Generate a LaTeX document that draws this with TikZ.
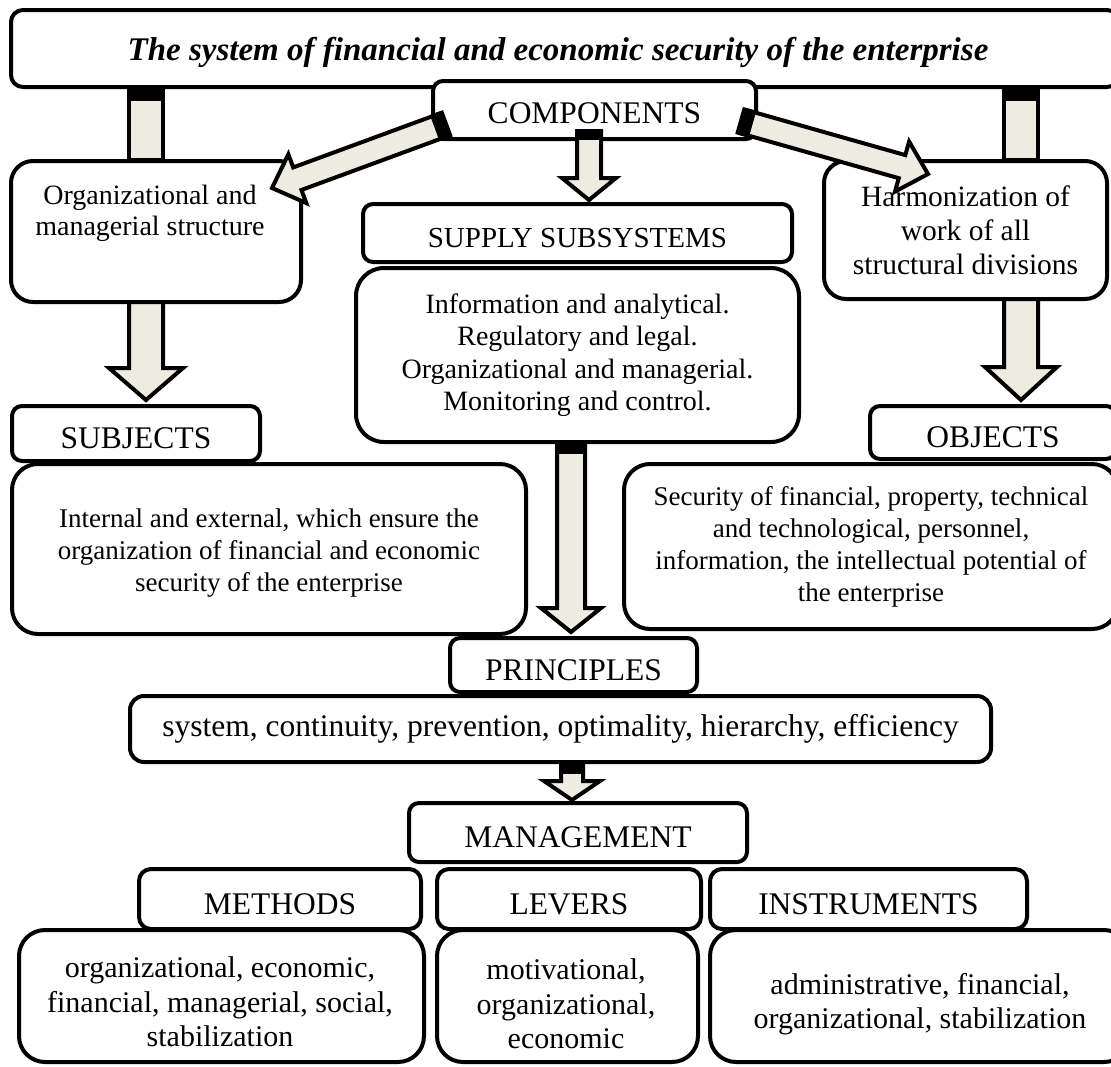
\documentclass[tikz,border=0pt]{standalone}
\usepackage{fontspec}
\setmainfont{Liberation Serif}
\usetikzlibrary{calc}
\definecolor{arrowtan}{HTML}{EEECE1}

\tikzset{
  box/.style={draw, line width=4pt, fill=white, inner sep=0pt, align=center, rounded corners=#1},
  box/.default=18pt,
  headtext/.style={font=\fontsize{31.5}{36}\selectfont, text height=30pt, text depth=0pt},
  bodytext/.style={font=\fontsize{27}{32}\selectfont},
  lowtext/.style={font=\fontsize{30}{34.5}\selectfont},
  plaintext/.style={inner sep=0pt, align=center},
  arrowbody/.style={fill=arrowtan, draw=black, line width=4pt, line join=miter},
  arrowcap/.style={fill=black},
}

% block arrow: tail, tip, half shaft width, half head width, head length, cap length
\newcommand\blockarrow[6]{%
  \coordinate (ba-base) at ($(#2)!#5pt!(#1)$);
  \filldraw[arrowbody] ($(#1)!#3pt!90:(#2)$) -- ($(ba-base)!#3pt!90:(#2)$)
    -- ($(ba-base)!#4pt!90:(#2)$) -- (#2) -- ($(ba-base)!#4pt!-90:(#2)$)
    -- ($(ba-base)!#3pt!-90:(#2)$) -- ($(#1)!#3pt!-90:(#2)$) -- cycle;
  \ifdim #6pt>0pt
    \pgfmathsetmacro\bacap{#3+2}%
    \coordinate (ba-cap) at ($(#1)!#6pt!(#2)$);
    \fill[arrowcap] ($(#1)!\bacap pt!90:(#2)$) -- ($(ba-cap)!\bacap pt!90:(#2)$)
      -- ($(ba-cap)!\bacap pt!-90:(#2)$) -- ($(#1)!\bacap pt!-90:(#2)$) -- cycle;
  \fi
}
% headless bar: start, end, half width, cap length
\newcommand\blockbar[4]{%
  \filldraw[arrowbody] ($(#1)!#3pt!90:(#2)$) -- ($(#2)!#3pt!-90:(#1)$)
    -- ($(#2)!#3pt!90:(#1)$) -- ($(#1)!#3pt!-90:(#2)$) -- cycle;
  \pgfmathsetmacro\bacap{#3+2}%
  \coordinate (bb-cap) at ($(#1)!#4pt!(#2)$);
  \fill[arrowcap] ($(#1)!\bacap pt!90:(#2)$) -- ($(bb-cap)!\bacap pt!90:(#2)$)
    -- ($(bb-cap)!\bacap pt!-90:(#2)$) -- ($(#1)!\bacap pt!-90:(#2)$) -- cycle;
}

\begin{document}
\begin{tikzpicture}[x=1pt, y=-1pt]
\useasboundingbox (0,0) rectangle (1111,1066);
\fill[white] (0,0) rectangle (1111,1066);

% top title
\node[box=12pt, minimum width=1108pt, minimum height=77pt] (title) at (565,48.5) {};
\node[plaintext, font=\fontsize{33}{38}\selectfont\bfseries\itshape] (titletext) at (558,52) {The system of financial and economic security of the enterprise};

% first level
\node[box=10pt, headtext, text height=26pt, minimum width=323pt, minimum height=58pt] (comp) at (594.5,110) {COMPONENTS};
\node[box=22pt, minimum width=290pt, minimum height=141pt] (org) at (156,231.5) {};
\node[plaintext, font=\fontsize{28}{31}\selectfont] (orgtext) at (150,213) {Organizational and\\managerial structure};
\node[box=22pt, font=\fontsize{29.5}{34}\selectfont, minimum width=283pt, minimum height=138pt] (harm) at (965.5,230) {Harmonization of\\work of all\\structural divisions};
\node[box=10pt, font=\fontsize{29}{34}\selectfont, text height=28pt, text depth=0pt, minimum width=429pt, minimum height=58pt] (supply) at (577.5,233) {SUPPLY SUBSYSTEMS};
\node[box=28pt, font=\fontsize{28}{32.5}\selectfont, minimum width=443pt, minimum height=174pt] (info) at (577.5,355) {Information and analytical.\\Regulatory and legal.\\Organizational and managerial.\\Monitoring and control.};

% subjects and objects
\node[box=10pt, headtext, minimum width=248pt, minimum height=55pt] (subjh) at (136,433.5) {SUBJECTS};
\node[box=26pt, minimum width=514pt, minimum height=170pt] (subjd) at (269,549) {};
\node[plaintext, bodytext] (subjtext) at (269,553) {Internal and external, which ensure the\\organization of financial and economic\\security of the enterprise};
\node[box=10pt, headtext, minimum width=246pt, minimum height=53pt] (objh) at (993,432.5) {OBJECTS};
\node[box=26pt, bodytext, minimum width=494pt, minimum height=165pt] (objd) at (871,546.5) {Security of financial, property, technical\\and technological, personnel,\\information, the intellectual potential of\\the enterprise};

% principles
\node[box=10pt, headtext, minimum width=247pt, minimum height=54pt] (prinh) at (573.5,665) {PRINCIPLES};
\node[box=14pt, font=\fontsize{31.5}{36}\selectfont, minimum width=861pt, minimum height=66pt] (prind) at (560.5,729) {system, continuity, prevention, optimality, hierarchy, efficiency};

% management
\node[box=10pt, headtext, minimum width=338pt, minimum height=59pt] (mgmt) at (578,832.5) {MANAGEMENT};
\node[box=12pt, headtext, minimum width=282pt, minimum height=60pt] (methh) at (280,899) {METHODS};
\node[box=12pt, headtext, minimum width=264pt, minimum height=60pt] (levh) at (569,899) {LEVERS};
\node[box=12pt, headtext, minimum width=317pt, minimum height=60pt] (insth) at (868.5,899) {INSTRUMENTS};
\node[box=26pt, minimum width=405pt, minimum height=132pt] (methd) at (221.5,996) {};
\node[box=26pt, minimum width=261pt, minimum height=132pt] (levd) at (567.5,996) {};
\node[box=26pt, minimum width=420pt, minimum height=132pt] (instd) at (920,996) {};
\node[plaintext, lowtext] (methtext) at (220,1002) {organizational, economic,\\financial, managerial, social,\\stabilization};
\node[plaintext, lowtext] (levtext) at (566,1004) {motivational,\\organizational,\\economic};
\node[plaintext, lowtext] (insttext) at (920,1004) {administrative, financial,\\organizational, stabilization};

% arrow end points
\coordinate (lbar-s) at (146,88);   \coordinate (lbar-e) at (146,160);
\coordinate (rbar-s) at (1021,88);  \coordinate (rbar-e) at (1021,160);
\coordinate (ldiag-s) at (446,124); \coordinate (ldiag-e) at (272,188);
\coordinate (rdiag-s) at (741,121); \coordinate (rdiag-e) at (928,174);
\coordinate (cdown-s) at (589,131); \coordinate (cdown-e) at (589,200);
\coordinate (lvert-s) at (146,302); \coordinate (lvert-e) at (146,400);
\coordinate (rvert-s) at (1021,299); \coordinate (rvert-e) at (1021,400);
\coordinate (long-s) at (571,442);  \coordinate (long-e) at (571,632);
\coordinate (short-s) at (572,762); \coordinate (short-e) at (572,800);

\blockbar{lbar-s}{lbar-e}{17}{13}
\blockbar{rbar-s}{rbar-e}{17}{13}
\blockarrow{ldiag-s}{ldiag-e}{12}{26}{27}{12}
\blockarrow{rdiag-s}{rdiag-e}{12}{26}{27}{12}
\blockarrow{cdown-s}{cdown-e}{12}{27}{22}{9}
\blockarrow{lvert-s}{lvert-e}{17}{37}{32}{0}
\blockarrow{rvert-s}{rvert-e}{17}{36}{33}{0}
\blockarrow{long-s}{long-e}{14}{30}{24}{12}
\blockarrow{short-s}{short-e}{11}{28}{19}{12}
\end{tikzpicture}
\end{document}
